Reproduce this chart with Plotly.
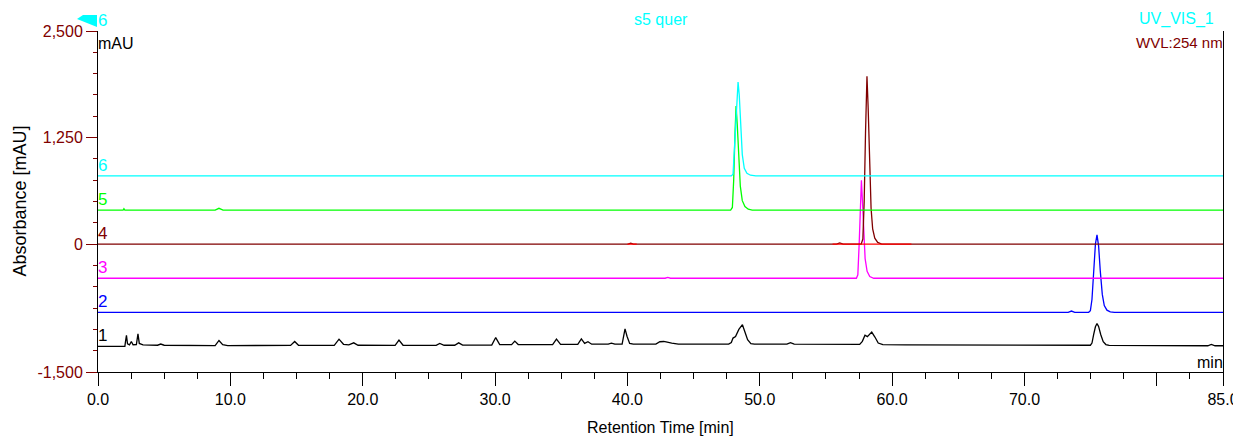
import numpy as np
import plotly.graph_objects as go

# ---------------- data ----------------
# retention time [min] / signal above own baseline [mAU]
black_t = [0, 2.03, 2.08, 2.15, 2.23, 2.38, 2.52, 2.65, 2.9, 3.02, 3.12, 3.4, 4.5, 4.74, 5.0,
           6.95, 7.18, 7.4, 8.85, 9.14, 9.42, 9.8, 14.55, 14.86, 15.15, 17.85, 18.21, 18.55,
           18.95, 19.32, 19.65, 22.45, 22.74, 23.05, 25.55, 25.82, 26.15, 26.95, 27.25, 27.55,
           29.75, 30.05, 30.35, 31.25, 31.49, 31.75, 34.35, 34.64, 34.95, 36.25, 36.52, 36.77,
           37.02, 37.3, 38.55, 38.79, 39.05, 39.6, 39.82, 39.97, 40.17, 40.45, 42.15, 42.45,
           42.75, 43.35, 43.85, 47.65, 47.85, 47.98, 48.17, 48.42, 48.69, 48.88, 49.08, 49.33,
           49.6, 52.05, 52.32, 52.6, 57.55, 57.75, 57.95, 58.13, 58.46, 58.7, 58.95, 59.3,
           61.0, 74.98, 75.1, 75.23, 75.36, 75.48, 75.6, 75.76, 75.95, 76.15, 76.4, 83.85,
           84.12, 84.4, 85]
black_v = [0, 0, 60, 130, 30, 18, 58, 20, 22, 148, 35, 18, 14, 28, 14,
           12, 18, 10, 10, 70, 20, 10, 12, 58, 14, 12, 85, 25,
           18, 42, 14, 12, 74, 14, 12, 35, 14, 14, 42, 16,
           16, 104, 22, 20, 62, 22, 22, 85, 25, 24, 88, 35,
           55, 26, 26, 38, 26, 28, 206, 120, 35, 27, 27, 55,
           58, 40, 27, 27, 45, 98, 115, 200, 255, 170, 80, 32,
           27, 26, 45, 26, 24, 60, 132, 115, 168, 110, 40, 22,
           18, 14, 40, 140, 230, 268, 235, 140, 55, 22, 12, 8,
           24, 8, 8]

blue_t = [0, 73.3, 73.55, 73.8, 74.85, 74.98, 75.1, 75.23, 75.36, 75.48, 75.6, 75.73,
          75.88, 76.03, 76.23, 76.48, 76.8, 85]
blue_v = [0, 0, 15, 0, 0, 20, 150, 470, 800, 908, 780, 480, 210, 80, 25, 5, 0, 0]

magenta_t = [0, 42.85, 43.05, 43.25, 57.3, 57.41, 57.51, 57.61, 57.68, 57.76, 57.86, 57.96,
             58.11, 58.31, 58.61, 85]
magenta_v = [0, 0, 10, 0, 0, 40, 400, 950, 1150, 900, 500, 230, 80, 20, 0, 0]

darkred_t = [0, 40.05, 40.25, 40.45, 55.8, 56.04, 56.3, 57.66, 57.79, 57.89, 57.99, 58.10,
             58.19, 58.29, 58.41, 58.53, 58.69, 58.91, 59.21, 85]
darkred_v = [0, 0, 12, 0, 0, 15, 0, 0, 60, 500, 1300, 1970, 1600, 900, 420, 180, 70, 20, 0, 0]

green_t = [0, 1.9, 1.96, 2.03, 8.85, 9.14, 9.45, 47.8, 47.93, 48.03, 48.13, 48.21, 48.3,
           48.4, 48.53, 48.68, 48.88, 49.13, 49.43, 85]
green_v = [0, 0, 15, 0, 0, 20, 0, 0, 30, 350, 900, 1220, 1000, 600, 280, 110, 40, 10, 0, 0]

cyan_t = [0, 47.85, 47.98, 48.12, 48.25, 48.36, 48.45, 48.55, 48.68, 48.83, 49.03, 49.3,
          49.7, 85]
cyan_v = [0, 0, 20, 400, 900, 1100, 950, 560, 250, 90, 30, 8, 0, 0]

trace_names = ["1", "2", "3", "4", "5", "6"]
trace_offsets = [-1200, -800, -400, 0, 400, 800]          # mAU
trace_colors = ["#000000", "#0000FF", "#FF00FF", "#800000", "#00FF00", "#00FFFF"]

# integration baseline markers on trace 4 (bright red)
marker_start = [40.0, 55.5]
marker_end = [40.7, 61.46]

x_tickvals = [0, 10, 20, 30, 40, 50, 60, 70, 80, 85]
x_ticktext = ["0.0", "10.0", "20.0", "30.0", "40.0", "50.0", "60.0", "70.0", "", "85.0"]
y_tickvals = [2500, 1250, 0, -1500]
y_ticktext = ["2,500", "1,250", "0", "-1,500"]

# ---------------- figure ----------------
FONT = "Liberation Sans, Arial, sans-serif"
DARKRED = "#800000"
CYAN = "#00FFFF"

series = [(black_t, black_v), (blue_t, blue_v), (magenta_t, magenta_v),
          (darkred_t, darkred_v), (green_t, green_v), (cyan_t, cyan_v)]

fig = go.Figure()
for (t, v), off, col in zip(series, trace_offsets, trace_colors):
    fig.add_trace(go.Scatter(x=t, y=np.array(v, dtype=float) + off, mode="lines",
                             line=dict(color=col, width=1.3), hoverinfo="skip"))

mx, my = [], []
for s, e in zip(marker_start, marker_end):
    mx += [s, e, None]
    my += [trace_offsets[3], trace_offsets[3], None]
fig.add_trace(go.Scatter(x=mx, y=my, mode="lines", line=dict(color="#FF0000", width=1.3),
                         hoverinfo="skip"))

annotations = []
for name, off, col in zip(trace_names, trace_offsets, trace_colors):
    annotations.append(dict(x=0, y=off, xref="x", yref="y", text=name, showarrow=False,
                            xanchor="left", yanchor="bottom", xshift=-2, yshift=-1,
                            font=dict(family=FONT, size=17, color=col)))

annotations += [
    dict(x=0.5, y=0, xref="paper", yref="paper", text="Retention Time [min]", showarrow=False,
         xanchor="center", yanchor="middle", yshift=-55, font=dict(family=FONT, size=16, color="black")),
    dict(x=0, y=0.5, xref="paper", yref="paper", text="Absorbance [mAU]", showarrow=False,
         textangle=-90, xanchor="center", yanchor="middle", xshift=-79,
         font=dict(family=FONT, size=18, color="black")),
    dict(x=0, y=1, xref="paper", yref="paper", text="mAU", showarrow=False,
         xanchor="left", yanchor="middle", xshift=-2, yshift=-12,
         font=dict(family=FONT, size=16, color="black")),
    dict(x=1, y=1, xref="paper", yref="paper", text="WVL:254 nm", showarrow=False,
         xanchor="right", yanchor="middle", xshift=2, yshift=-11,
         font=dict(family=FONT, size=15, color=DARKRED)),
    dict(x=1, y=1, xref="paper", yref="paper", text="UV_VIS_1", showarrow=False,
         xanchor="right", yanchor="middle", xshift=-7, yshift=12,
         font=dict(family=FONT, size=16, color=CYAN)),
    dict(x=0.5, y=1, xref="paper", yref="paper", text="s5 quer", showarrow=False,
         xanchor="center", yanchor="middle", yshift=12,
         font=dict(family=FONT, size=16, color=CYAN)),
    dict(x=0, y=1, xref="paper", yref="paper", text="6", showarrow=False,
         xanchor="left", yanchor="middle", xshift=-2, yshift=11,
         font=dict(family=FONT, size=17, color=CYAN)),
    dict(x=1, y=0, xref="paper", yref="paper", text="min", showarrow=False,
         xanchor="right", yanchor="middle", xshift=2, yshift=10,
         font=dict(family=FONT, size=16, color="black")),
]

# the page body has an 8 px default margin: size the figure so the plot area lands
# at the same window pixels as the reference (plot area x 98..1223, y 31..372)
fig.update_layout(
    width=1233, height=429,
    margin=dict(l=90, r=18, t=23, b=65, autoexpand=False),
    plot_bgcolor="white", paper_bgcolor="white",
    showlegend=False,
    annotations=annotations,
    shapes=[dict(type="path", xref="paper", yref="paper", xsizemode="pixel", ysizemode="pixel",
                 xanchor=0, yanchor=1, path="M -21,12 L -15,16 L -1,16 L -1,4 Z",
                 fillcolor=CYAN, line=dict(width=0))],
    xaxis=dict(range=[0, 85], automargin=False, showgrid=False, zeroline=False, showline=True,
               linecolor="black", linewidth=1, ticks="outside", ticklen=13, tickwidth=1,
               tickcolor="black", tickmode="array", tickvals=x_tickvals, ticktext=x_ticktext,
               tickfont=dict(family=FONT, size=16, color="black"),
               minor=dict(ticks="outside", ticklen=6, tickwidth=1, tickcolor="black",
                          dtick=2.5, tick0=0)),
    yaxis=dict(range=[-1500, 2500], automargin=False, showgrid=False, zeroline=False,
               showline=True, mirror=True, linecolor="black", linewidth=1, ticks="outside",
               ticklen=11, tickwidth=1, tickcolor=DARKRED, tickmode="array",
               tickvals=y_tickvals, ticktext=y_ticktext,
               tickfont=dict(family=FONT, size=16, color=DARKRED),
               minor=dict(ticks="outside", ticklen=4, tickwidth=1, tickcolor=DARKRED,
                          dtick=250, tick0=0)),
)

fig.write_html("out.html")
